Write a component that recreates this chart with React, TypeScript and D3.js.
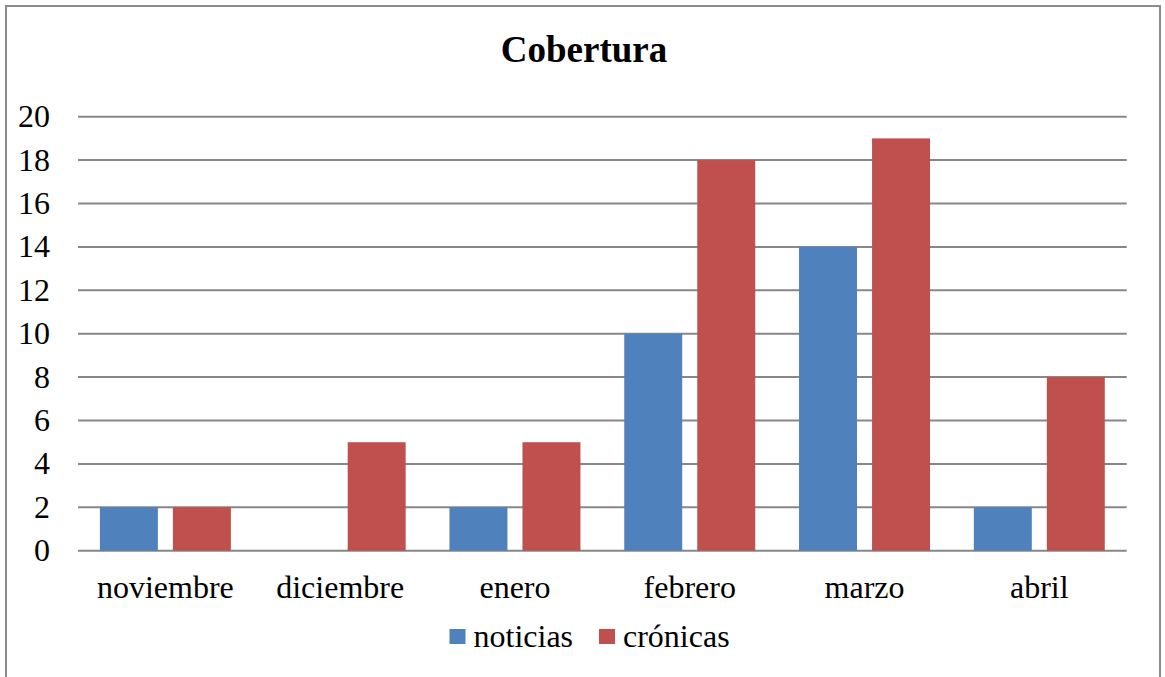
import React from "react";
import * as d3 from "d3";

const categories = ["noviembre", "diciembre", "enero", "febrero", "marzo", "abril"];
const seriesNames = ["noticias", "crónicas"];
const noticias = [2, 0, 2, 10, 14, 2];
const cronicas = [2, 5, 5, 18, 19, 8];
const yTicks = [0, 2, 4, 6, 8, 10, 12, 14, 16, 18, 20];
const colors = ["#4F81BD", "#C0504D"];

const W = 1165;
const H = 677;
const left = 78;
const right = 1126.7;
const top = 116.7;
const bottom = 550.7;
const FONT = "Liberation Serif";

export default function App() {
  const x0 = d3.scaleBand<string>().domain(categories).range([left, right]).paddingInner(0).paddingOuter(0);
  const x1 = d3
    .scaleBand<string>()
    .domain(seriesNames)
    .range([0, x0.bandwidth()])
    .paddingInner(0.206)
    .paddingOuter(0.3);
  const y = d3.scaleLinear().domain([0, 20]).range([bottom, top]);
  const values = [noticias, cronicas];
  const ts = { fontFamily: FONT };

  return (
    <svg
      width={W}
      height={H}
      style={{ position: "absolute", left: 0, top: 0, display: "block", background: "#fff" }}
    >
      <rect x={6} y={6} width={1154} height={680} fill="#fff" stroke="#8c8c8c" strokeWidth={2} />
      <text x={584} y={62} textAnchor="middle" fontSize={37} fontWeight="bold" fill="#000" style={ts}>
        Cobertura
      </text>
      {yTicks.map((t) => (
        <g key={t}>
          <line x1={left} x2={right} y1={y(t)} y2={y(t)} stroke="#878787" strokeWidth={2} />
          <text x={50} y={y(t) + 10.5} textAnchor="end" fontSize={32} fill="#000" style={ts}>
            {t}
          </text>
        </g>
      ))}
      {categories.map((c, i) => (
        <g key={c}>
          {seriesNames.map((s, j) => {
            const v = values[j][i];
            if (v <= 0) return null;
            return (
              <rect
                key={s}
                x={(x0(c) as number) + (x1(s) as number)}
                y={y(v)}
                width={x1.bandwidth()}
                height={y(0) - y(v)}
                fill={colors[j]}
              />
            );
          })}
          <text x={(x0(c) as number) + x0.bandwidth() / 2} y={598} textAnchor="middle" fontSize={32} fill="#000" style={ts}>
            {c}
          </text>
        </g>
      ))}
      {seriesNames.map((s, j) => {
        const lx = [449.5, 599][j];
        return (
          <g key={s}>
            <rect x={lx} y={629} width={16} height={15} fill={colors[j]} />
            <text x={lx + 24} y={646.5} fontSize={32} fill="#000" style={ts}>
              {s}
            </text>
          </g>
        );
      })}
    </svg>
  );
}
